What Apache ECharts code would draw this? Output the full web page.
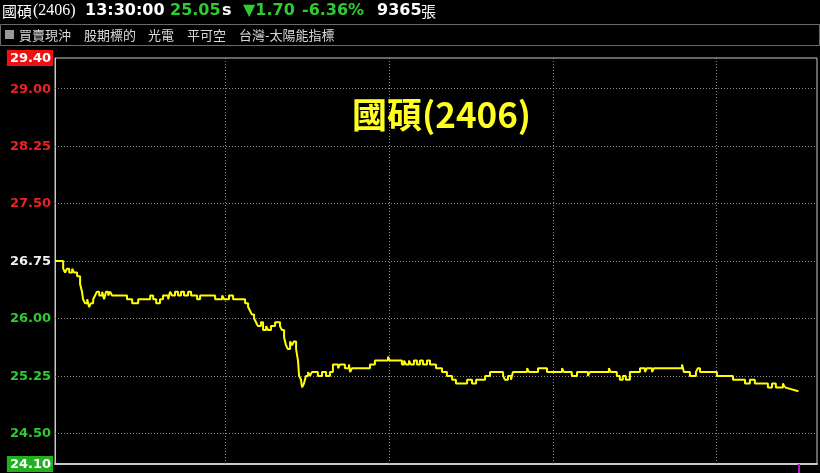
<!DOCTYPE html>
<html lang="zh-Hant">
<head>
<meta charset="UTF-8">
<title>國碩(2406)</title>
<style>
	html, body { margin: 0; padding: 0; background: #000; }
	#chart { width: 820px; height: 473px; }
</style>
</head>
<body>
<div id="chart"></div>
<script src="https://cdn.jsdelivr.net/npm/echarts@6/dist/echarts.min.js"></script>
<script>
// 走勢資料（分鐘數，以 09:00 為 0）
var times = [-2.6,0.4,1.1,1.8,2.6,3.7,4.4,5.5,6.6,7.3,7.7,8.4,9.2,9.9,10.6,11.4,12.1,12.8,13.6,14.7,
	15.4,16.1,16.9,17.6,18.3,23.8,25.7,27.9,32.3,33.4,34.5,35.9,37.0,38.9,39.6,40.3,41.4,42.5,43.6,44.7,
	46.2,47.3,49.5,50.6,56.1,58.7,59.4,61.2,62.7,67.1,68.2,68.9,69.6,70.4,71.1,71.8,72.9,73.7,74.8,75.5,
	76.6,78.1,79.9,80.6,81.4,82.1,82.8,83.6,84.3,85.0,85.8,86.5,86.9,87.6,88.0,88.7,89.4,90.2,90.9,91.6,
	93.8,95.3,96.8,98.2,99.3,101.2,101.9,103.7,105.2,105.6,106.3,112.9,114.7,119.5,120.2,124.6,125.4,126.1,127.2,127.9,
	129.0,130.1,131.2,132.3,133.8,134.9,137.1,139.3,141.1,143.0,144.4,148.5,150.3,151.8,155.1,156.9,161.7,162.4,163.5,164.6,
	165.3,170.5,171.2,174.5,177.8,183.3,184.0,186.9,188.8,192.8,193.5,200.5,201.2,203.4,204.5,205.6,206.7,208.2,211.9,213.7,
	214.4,216.3,217.0,227.3,228.0,230.2,232.4,233.1,233.9,240.1,246.0,250.4,252.2,254.0,258.8,260.3,261.7,264.3,265.0];
var prices = [26.75,26.65,26.60,26.65,26.60,26.65,26.60,26.55,26.45,26.35,26.25,26.20,26.25,26.15,26.20,26.25,26.30,26.35,26.30,26.35,
	26.25,26.35,26.30,26.35,26.30,26.25,26.20,26.25,26.30,26.25,26.20,26.25,26.30,26.25,26.35,26.30,26.35,26.30,26.35,26.30,
	26.35,26.30,26.25,26.30,26.25,26.30,26.25,26.30,26.25,26.20,26.15,26.10,26.05,26.00,25.95,25.90,25.95,25.85,25.90,25.85,
	25.90,25.95,25.90,25.85,25.75,25.65,25.60,25.70,25.65,25.70,25.60,25.45,25.25,25.20,25.10,25.15,25.25,25.30,25.25,25.30,
	25.25,25.30,25.25,25.30,25.40,25.35,25.40,25.35,25.40,25.30,25.35,25.40,25.45,25.50,25.45,25.40,25.45,25.40,25.45,25.40,
	25.45,25.40,25.45,25.40,25.45,25.40,25.35,25.30,25.25,25.20,25.15,25.20,25.15,25.20,25.25,25.30,25.25,25.20,25.25,25.20,
	25.30,25.35,25.30,25.35,25.30,25.35,25.30,25.25,25.30,25.25,25.30,25.35,25.30,25.25,25.20,25.25,25.20,25.30,25.35,25.30,
	25.35,25.30,25.35,25.40,25.30,25.25,25.30,25.35,25.30,25.25,25.20,25.15,25.20,25.15,25.10,25.15,25.10,25.15,25.10];
// 收盤撮合
var closeTimes = [265.0, 270];
var closePrices = [25.10, 25.05];

// 座標刻度
var priceTicks = [24.10, 24.50, 25.25, 26.00, 26.75, 27.50, 28.25, 29.00, 29.40];
var gridPrices = [24.50, 25.25, 26.00, 27.50, 28.25, 29.00];
var prevClose = 26.75;
var limitUp = 29.40, limitDown = 24.10;
var hourMarks = [60, 120, 180, 240];
var nowMark = 270;

var tags = ['買賣現沖', '股期標的', '光電', '平可空', '台灣-太陽能指標'];
var tagX = [19, 84, 148, 187, 239];

var myChart = echarts.init(document.getElementById('chart'));

var lineData = times.map(function (t, i) { return [t, prices[i]]; });
var closeData = closeTimes.map(function (t, i) { return [t, closePrices[i]]; });

var gridLines = [];
gridPrices.forEach(function (p) {
	gridLines.push({ yAxis: p, lineStyle: { color: '#8a8a8a', type: [1, 2], width: 1 } });
});
gridLines.push({ yAxis: prevClose, lineStyle: { color: '#4f9aa8', type: [1, 2], width: 1 } });
hourMarks.forEach(function (m) {
	gridLines.push({ xAxis: m, lineStyle: { color: '#8a8a8a', type: [1, 2], width: 1 } });
});

var headFont = '"DejaVu Sans", sans-serif';
var cjkFont = '"Noto Sans CJK TC", sans-serif';

var graphics = [
	{ type: 'rect', shape: { x: 0.5, y: 24.5, width: 819, height: 21 }, style: { fill: 'none', stroke: '#6a6a6a', lineWidth: 1 } },
	{ type: 'rect', shape: { x: 5, y: 30, width: 9, height: 9 }, style: { fill: '#9a9a9a' } },
	{ type: 'text', x: 2, y: 11, style: { text: '國碩', fill: '#fff', font: '15px ' + cjkFont, verticalAlign: 'middle' } },
	{ type: 'text', x: 33, y: 11, style: { text: '(2406)', fill: '#fff', font: '16px "Liberation Serif", serif', verticalAlign: 'middle' } },
	{ type: 'text', x: 85, y: 11, style: { text: '13:30:00', fill: '#fff', font: 'bold 16px ' + headFont, verticalAlign: 'middle' } },
	{ type: 'text', x: 170, y: 11, style: { text: '25.05', fill: '#2ecc2e', font: 'bold 16px ' + headFont, verticalAlign: 'middle' } },
	{ type: 'text', x: 222, y: 11, style: { text: 's', fill: '#fff', font: 'bold 16px ' + headFont, verticalAlign: 'middle' } },
	{ type: 'text', x: 243, y: 11, style: { text: '▼1.70', fill: '#2ecc2e', font: 'bold 16px ' + headFont, verticalAlign: 'middle' } },
	{ type: 'text', x: 302, y: 11, style: { text: '-6.36%', fill: '#2ecc2e', font: 'bold 16px ' + headFont, verticalAlign: 'middle' } },
	{ type: 'text', x: 377, y: 11, style: { text: '9365', fill: '#fff', font: 'bold 16px ' + headFont, verticalAlign: 'middle' } },
	{ type: 'text', x: 421, y: 11, style: { text: '張', fill: '#fff', font: '15px ' + cjkFont, verticalAlign: 'middle' } }
];
tags.forEach(function (t, i) {
	graphics.push({ type: 'text', x: tagX[i], y: 35, style: { text: t, fill: '#d8d8d8', font: '13px ' + cjkFont, verticalAlign: 'middle' } });
});

var option = {
	backgroundColor: '#000',
	animation: false,
	title: {
		text: '國碩(2406)',
		left: 347,
		top: 92,
		textStyle: { color: '#ffff22', fontSize: 35, fontWeight: 'bold', fontFamily: cjkFont }
	},
	graphic: graphics,
	grid: {
		left: 55, right: 3, top: 58, bottom: 9,
		show: true, borderColor: '#c8c8c8', borderWidth: 1
	},
	xAxis: {
		type: 'value',
		min: -2.6,
		max: 276.8,
		axisLine: { show: true, onZero: false, lineStyle: { color: '#c8c8c8', width: 2 } },
		axisLabel: { show: false },
		splitLine: { show: false },
		axisTick: {
			show: true,
			customValues: [nowMark],
			length: 9,
			lineStyle: { color: '#b020c0', width: 2 }
		}
	},
	yAxis: {
		type: 'value',
		min: limitDown,
		max: limitUp,
		axisLine: { show: true, onZero: false, lineStyle: { color: '#c8c8c8' } },
		axisTick: { show: false },
		splitLine: { show: false },
		axisLabel: {
			customValues: priceTicks,
			margin: 2,
			fontFamily: headFont,
			fontWeight: 'bold',
			fontSize: 13,
			formatter: function (v) {
				var s = v.toFixed(2);
				if (Math.abs(v - limitUp) < 0.001) return '{up|' + s + '}';
				if (Math.abs(v - limitDown) < 0.001) return '{dn|' + s + '}';
				if (Math.abs(v - prevClose) < 0.001) return '{eq|' + s + '}';
				return v > prevClose ? '{r|' + s + '}' : '{g|' + s + '}';
			},
			rich: {
				up: { color: '#fff', backgroundColor: '#ee1111', padding: [2, 2, 1, 3], fontWeight: 'bold', fontSize: 13, fontFamily: headFont },
				dn: { color: '#fff', backgroundColor: '#22b022', padding: [2, 2, 1, 3], fontWeight: 'bold', fontSize: 13, fontFamily: headFont },
				eq: { color: '#f0f0f0', padding: [2, 2, 1, 3], fontWeight: 'bold', fontSize: 13, fontFamily: headFont },
				r: { color: '#ee2222', padding: [2, 2, 1, 3], fontWeight: 'bold', fontSize: 13, fontFamily: headFont },
				g: { color: '#2ecc2e', padding: [2, 2, 1, 3], fontWeight: 'bold', fontSize: 13, fontFamily: headFont }
			}
		}
	},
	series: [
		{
			type: 'line',
			step: 'end',
			data: lineData,
			showSymbol: false,
			lineStyle: { color: '#ffff00', width: 2 },
			z: 5,
			markLine: {
				silent: true,
				symbol: 'none',
				label: { show: false },
				animation: false,
				data: gridLines,
				z: 1
			}
		},
		{
			type: 'line',
			data: closeData,
			showSymbol: false,
			lineStyle: { color: '#ffff00', width: 2 },
			z: 5
		}
	]
};

myChart.setOption(option);
</script>
</body>
</html>
